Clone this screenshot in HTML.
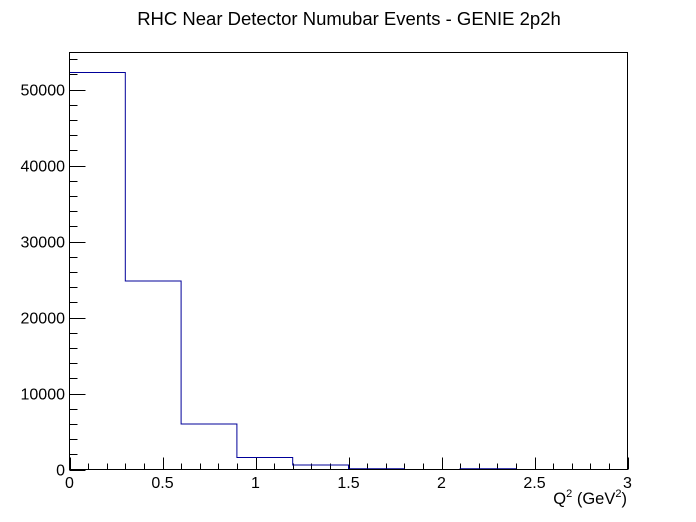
<!DOCTYPE html>
<html><head><meta charset="utf-8"><style>
body{margin:0;background:#fff;}
svg{display:block;font-family:"Liberation Sans",Arial,sans-serif;}
</style></head><body>
<svg id="chart" width="696" height="522" viewBox="0 0 696 522">
<rect width="696" height="522" fill="#fff"/>
<text x="349" y="25" text-anchor="middle" font-size="18.5">RHC Near Detector Numubar Events - GENIE 2p2h</text>
<g id="axes"></g>
<path id="hist" fill="none" stroke="#000099" stroke-width="1"/>
<rect x="69.5" y="52.5" width="558" height="417" fill="none" stroke="#000" stroke-width="1"/>
<text x="627" y="504" text-anchor="end" font-size="16.5">Q<tspan dy="-7" font-size="11">2</tspan><tspan dy="7"> (GeV</tspan><tspan dy="-7" font-size="11">2</tspan><tspan dy="7">)</tspan></text>
</svg>
<script>
const binEdges = [0,0.3,0.6,0.9,1.2,1.5,1.8,2.1,2.4,2.7,3.0];
const binCounts = [52240,24800,5990,1580,590,100,0,100,0,0];
const xTicks = [0,0.5,1,1.5,2,2.5,3];
const xTickLabels = ["0","0.5","1","1.5","2","2.5","3"];
const yTicks = [0,10000,20000,30000,40000,50000];
const yTickLabels = ["0","10000","20000","30000","40000","50000"];
const X0=69.5,X1=627.5,Y0=469.5,Y1=52.5,XMAX=3,YMAX=54870;
const sx=v=>X0+(X1-X0)*v/XMAX;
const sy=v=>Y0-(Y0-Y1)*v/YMAX;
const NS="http://www.w3.org/2000/svg";
const ax=document.getElementById('axes');
function line(x1,y1,x2,y2,name){const l=document.createElementNS(NS,'line');
l.setAttribute('x1',x1);l.setAttribute('y1',y1);l.setAttribute('x2',x2);l.setAttribute('y2',y2);
l.setAttribute('stroke','#000');l.setAttribute('stroke-width','1');


ax.appendChild(l);}
function text(x,y,s,anchor,name){const t=document.createElementNS(NS,'text');
t.setAttribute('x',x);t.setAttribute('y',y);t.setAttribute('text-anchor',anchor);t.setAttribute('font-size','16');t.textContent=s;


ax.appendChild(t);}
for(let i=0;i<=30;i++){const v=i*0.1;const x=Math.round(sx(v))+0.5;const major=i%5===0;
line(x,Y0,x,Y0-(major?12:6),major?'x-major-tick':'x-minor-tick');}
xTicks.forEach((v,i)=>text(sx(v),488,xTickLabels[i],'middle','x-tick-label'));
for(let v=0;v<=YMAX;v+=2000){const y=Math.round(sy(v))+0.5;const major=v%10000===0;
line(X0,y,X0+(major?16:8),y,major?'y-major-tick':'y-minor-tick');}
yTicks.forEach((v,i)=>text(65,sy(v)+6,yTickLabels[i],'end','y-tick-label'));
let d='M'+sx(binEdges[0])+','+sy(0);
binCounts.forEach((c,i)=>{d+=' L'+sx(binEdges[i])+','+sy(c)+' L'+sx(binEdges[i+1])+','+sy(c);});
d+=' L'+sx(binEdges[binEdges.length-1])+','+sy(0);
document.getElementById('hist').setAttribute('d',d);
</script>
</body></html>
